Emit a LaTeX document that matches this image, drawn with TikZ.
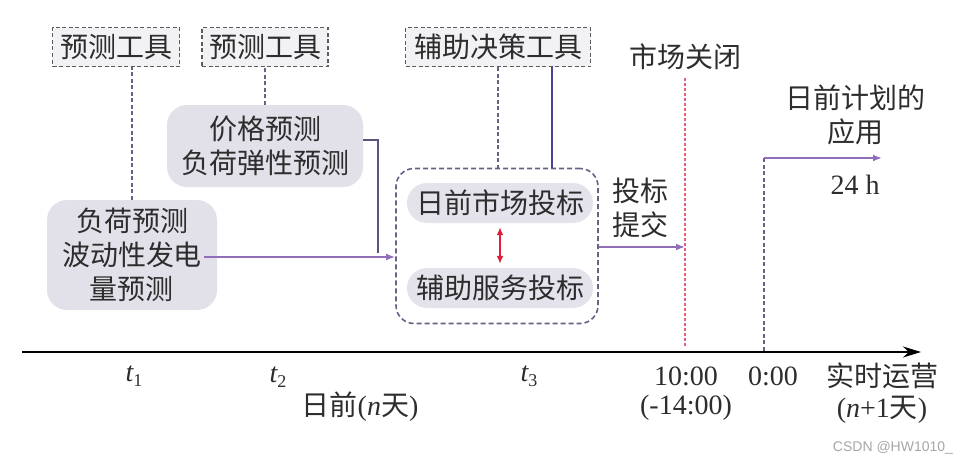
\documentclass[tikz,border=0pt]{standalone}
\usepackage{fontspec}
\setmainfont{Liberation Serif}
\newfontfamily\cj{Noto Sans CJK SC}
\usetikzlibrary{arrows.meta}
\definecolor{boxfill}{RGB}{226,225,233}
\definecolor{innerfill}{RGB}{228,227,235}
\definecolor{toolfill}{RGB}{242,242,245}
\definecolor{tooldraw}{RGB}{90,90,95}
\definecolor{dashpurple}{RGB}{105,95,135}
\definecolor{linepurple}{RGB}{145,110,185}
\definecolor{darkline}{RGB}{90,85,125}
\definecolor{redline}{RGB}{232,95,125}
\definecolor{redarrow}{RGB}{225,30,60}
\definecolor{txtc}{RGB}{45,45,45}
\newcommand{\tsub}[1]{{\itshape t}\raisebox{-0.35ex}{\fontsize{18}{18}\selectfont #1}}
\begin{document}
\begin{tikzpicture}[x=1pt,y=-1pt,
  txt/.style={font=\fontsize{28}{34}\selectfont\cj, text=txtc, inner sep=0pt},
  lat/.style={font=\fontsize{28}{33}\selectfont, text=txtc, inner sep=0pt, align=center},
  tool/.style={txt, draw=tooldraw, fill=toolfill, dash pattern=on 4pt off 2.5pt, line width=1.8pt, minimum height=39pt},
  gbox/.style={txt, fill=boxfill, rounded corners=20pt, align=center},
  inbox/.style={txt, fill=innerfill, rounded corners=20pt, minimum width=186pt, minimum height=40pt},
  dashc/.style={draw=dashpurple, line width=1.7pt, dash pattern=on 4pt off 2.5pt},
  flow/.style={draw=linepurple, line width=1.7pt, -{Latex[length=9pt,width=7pt]}},
]
\useasboundingbox (0,0) rectangle (962,463);

% tool boxes
\node[tool, minimum width=127pt] (tool1) at (116,47) {预测工具};
\node[tool, minimum width=126pt] (tool2) at (265,47) {预测工具};
\node[tool, minimum width=185pt] (tool3) at (498,47) {辅助决策工具};

% gray boxes
\node[gbox, minimum width=170pt, minimum height=110pt] (boxA) at (132,255) {负荷预测\\波动性发电\\量预测};
\node[gbox, minimum width=196pt, minimum height=82pt] (boxB) at (265,146) {价格预测\\负荷弹性预测};

% container
\node[draw=dashpurple, line width=1.6pt, dash pattern=on 5pt off 3pt, rounded corners=18pt,
      minimum width=202pt, minimum height=155pt, inner sep=0pt] (container) at (497,246) {};
\node[inbox] (bid1) at (500,203) {日前市场投标};
\node[inbox] (bid2) at (500,288) {辅助服务投标};
\draw[redarrow, line width=1.8pt, {Latex[length=8pt,width=7pt]}-{Latex[length=8pt,width=7pt]}]
  ([yshift=-4pt]bid1.south) -- ([yshift=4pt]bid2.north);

% tool connectors
\draw[dashc] (boxA.north) -- (boxA.north |- tool1.south);
\draw[dashc] (boxB.north) -- (boxB.north |- tool2.south);
\draw[dashc] (tool3.south) -- (tool3.south |- container.north);
\draw[draw=darkline!80!blue, line width=1.7pt] ([xshift=54pt]tool3.south) -- ([xshift=54pt]tool3.south |- container.north);

% inputs to container
\coordinate (aout) at ([xshift=-13pt,yshift=-2pt]boxA.east);
\coordinate (join) at (378,253);
\draw[flow] (aout) -- (aout -| container.west);
\draw[draw=darkline, line width=1.7pt] ([yshift=6pt]boxB.east) -| (join);

% market close
\coordinate (rtop) at (685,78);
\coordinate (rbot) at (685,346);
\node[txt] (close) at (685,57) {市场关闭};
\draw[redline, line width=2.6pt, dash pattern=on 3pt off 2pt] (rtop) -- (rbot);
\draw[flow] ([yshift=-1pt]container.east) -- ([yshift=-1pt]container.east -| rtop);
\node[txt, align=center] (submit) at (640,208) {投标\\提交};

% day-ahead plan
\coordinate (ptop) at (764,158);
\coordinate (pbot) at (764,352);
\coordinate (pend) at (882,158);
\draw[dashc] (ptop) -- (pbot);
\draw[flow] (ptop) -- (pend);
\node[txt, align=center] (plan) at (855,115) {日前计划的\\应用};
\node[lat] (h24) at (855,185) {24 h};

% axis
\coordinate (ax0) at (22,352);
\coordinate (ax1) at (921,352);
\draw[black, line width=2.2pt, -{Stealth[length=18pt,width=11pt]}] (ax0) -- (ax1);

\node[lat] (t1) at (134,376) {\tsub{1}};
\node[lat] (t2) at (278,377) {\tsub{2}};
\node[lat] (t3) at (529,376) {\tsub{3}};
\node[lat] (day) at (360,407) {{\cj 日前}({\itshape n}{\cj 天})};
\node[lat] (ten) at (686,376) {10:00};
\node[lat] (ten2) at (686,408) {(-14:00)};
\node[lat] (zero) at (773,376) {0:00};
\node[txt] (rt) at (882,376) {实时运营};
\node[lat] (rt2) at (882,410) {({\itshape n}+1{\cj 天})};
\node[font=\fontsize{14}{14}\selectfont\fontspec{Liberation Sans}, text=gray!70, inner sep=0pt] (wm) at (893,448) {CSDN @HW1010\_};
\end{tikzpicture}
\end{document}
